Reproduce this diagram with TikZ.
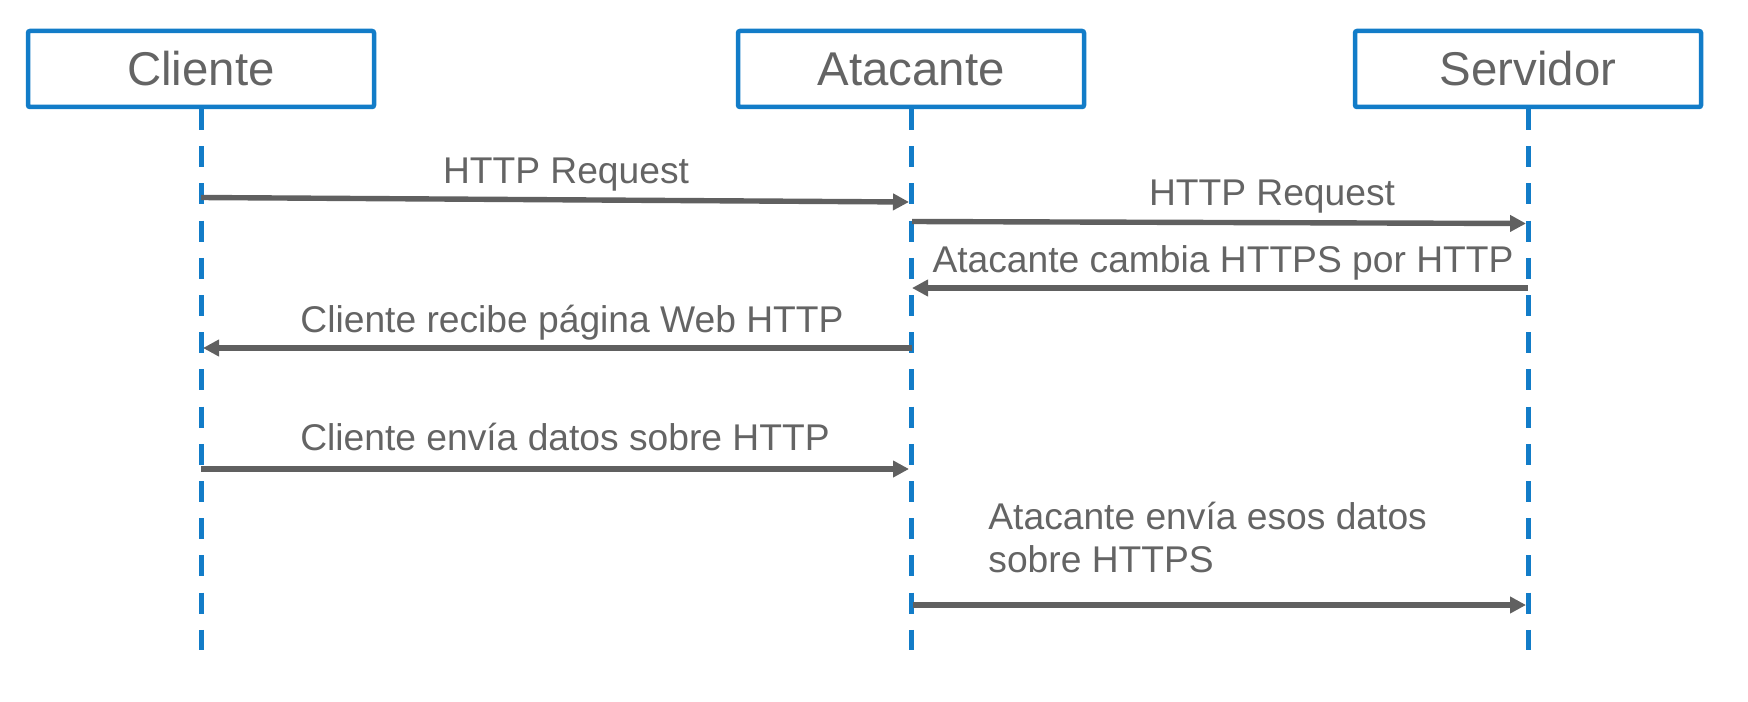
\documentclass[tikz,border=0pt]{standalone}
\usepackage{fontspec}
\setmainfont{Liberation Sans}
\usetikzlibrary{arrows.meta}
\definecolor{lblue}{RGB}{18,124,200}
\definecolor{tgray}{RGB}{100,100,100}
\definecolor{agray}{RGB}{96,96,96}
\tikzset{
  actor/.style={draw=lblue, line width=2.25pt, rounded corners=1pt, fill=white,
    minimum width=173pt, minimum height=38pt, inner sep=0pt,
    text=tgray, font=\fontsize{23.7pt}{28pt}\selectfont},
  lifeline/.style={draw=lblue, line width=2.5pt, dash pattern=on 10.5pt off 8.1pt},
  msg/.style={draw=agray, line width=2.7pt, -{Triangle[length=8pt,width=8pt]}},
  msglabel/.style={text=tgray, inner sep=0pt, font=\fontsize{18.6pt}{22pt}\selectfont},
}
\begin{document}
\begin{tikzpicture}[x=0.5pt,y=-0.5pt]
\useasboundingbox (0,0) rectangle (1748,701);
% actors
\node[actor] (cli) at (201,69) {Cliente};
\node[actor] (ata) at (911,69) {Atacante};
\node[actor] (ser) at (1528,69) {Servidor};
% lifeline ends
\coordinate (cliTop) at (201,109);
\coordinate (ataTop) at (911,109);
\coordinate (serTop) at (1528,109);
\coordinate (cliEnd) at (201,650);
\coordinate (ataEnd) at (911,650);
\coordinate (serEnd) at (1528,650);
\draw[lifeline] (cliTop) -- (cliEnd);
\draw[lifeline] (ataTop) -- (ataEnd);
\draw[lifeline] (serTop) -- (serEnd);
% message end points on lifelines
\coordinate (m1a) at (201,197.5);
\coordinate (m1b) at (909,202);
\coordinate (m2a) at (912,221.5);
\coordinate (m2b) at (1526,223.5);
\coordinate (m3a) at (1528,288);
\coordinate (m3b) at (912,288);
\coordinate (m4a) at (912,348);
\coordinate (m4b) at (203,348);
\coordinate (m5a) at (201,469);
\coordinate (m5b) at (909,469);
\coordinate (m6a) at (913,605);
\coordinate (m6b) at (1526,605);
\draw[msg] (m1a) -- (m1b);
\draw[msg] (m2a) -- (m2b);
\draw[msg] (m3a) -- (m3b);
\draw[msg] (m4a) -- (m4b);
\draw[msg] (m5a) -- (m5b);
\draw[msg] (m6a) -- (m6b);
% labels
\node[msglabel, anchor=base] (l1) at (566,183) {HTTP Request};
\node[msglabel, anchor=base] (l2) at (1272,205) {HTTP Request};
\node[msglabel, anchor=base] (l3) at (1223,272) {Atacante cambia HTTPS por HTTP};
\node[msglabel, anchor=base] (l4) at (572,332) {Cliente recibe página Web HTTP};
\node[msglabel, anchor=base] (l5) at (565,450) {Cliente envía datos sobre HTTP};
\node[msglabel, anchor=base west] (l6a) at (988,529) {Atacante envía esos datos};
\node[msglabel, anchor=base west] (l6b) at (988,572) {sobre HTTPS};
\end{tikzpicture}
\end{document}
